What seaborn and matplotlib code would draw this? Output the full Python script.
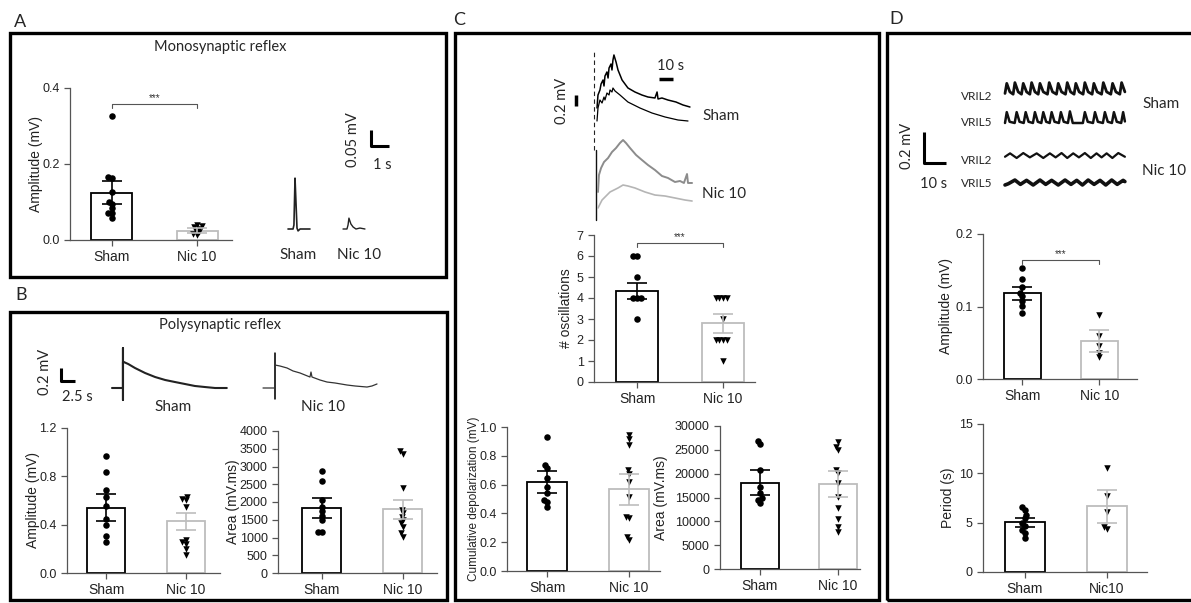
import numpy as np
import pandas as pd
import matplotlib
matplotlib.use("Agg")
import matplotlib.pyplot as plt
import seaborn as sns
from matplotlib.patches import Rectangle

# ---- bar chart data ----
groups = ["Sham", "Nic 10"]
groups_d = ["Sham", "Nic10"]

a_mean = [0.125, 0.025]
a_sem = [0.029, 0.007]
a_sham = [0.327, 0.167, 0.163, 0.127, 0.101, 0.095, 0.084, 0.072, 0.07, 0.057]
a_nic = [0.04, 0.037, 0.033, 0.03, 0.025, 0.02, 0.015, 0.012]

b_amp_mean = [0.54, 0.43]
b_amp_sem = [0.113, 0.07]
b_amp_sham = [0.968, 0.836, 0.69, 0.629, 0.557, 0.45, 0.394, 0.31, 0.257]
b_amp_nic = [0.629, 0.615, 0.601, 0.546, 0.276, 0.257, 0.243, 0.2, 0.146]

b_area_mean = [1832, 1794]
b_area_sem = [270, 260]
b_area_sham = [2878, 2579, 2056, 1869, 1748, 1607, 1495, 1168, 1150]
b_area_nic = [3439, 3364, 2383, 1776, 1682, 1589, 1495, 1402, 1308, 1121, 1028]

c_osc_mean = [4.34, 2.79]
c_osc_sem = [0.38, 0.44]
c_osc_sham = [6, 6, 5, 4, 4, 4, 3]
c_osc_nic = [4, 4, 4, 4, 3, 2, 2, 2, 2, 1]

c_cum_mean = [0.619, 0.567]
c_cum_sem = [0.075, 0.108]
c_cum_sham = [0.93, 0.733, 0.714, 0.644, 0.586, 0.544, 0.493, 0.481, 0.447]
c_cum_nic = [0.944, 0.919, 0.872, 0.698, 0.674, 0.621, 0.516, 0.377, 0.365, 0.237, 0.214]

c_area_mean = [18112, 17902]
c_area_sem = [2620, 2760]
c_area_sham = [26923, 26224, 20769, 17273, 15874, 14825, 14476, 13776]
c_area_nic = [26573, 25524, 24965, 20769, 20210, 17972, 15175, 12727, 10420, 8881, 7832]

d_amp_mean = [0.118, 0.0525]
d_amp_sem = [0.0088, 0.0155]
d_amp_sham = [0.153, 0.138, 0.127, 0.118, 0.114, 0.107, 0.101, 0.091]
d_amp_nic = [0.088, 0.059, 0.046, 0.036, 0.03]

d_per_mean = [5.03, 6.66]
d_per_sem = [0.46, 1.68]
d_per_sham = [6.59, 6.32, 5.81, 5.47, 4.97, 4.7, 4.22, 3.95, 3.45]
d_per_nic = [10.54, 7.67, 6.05, 4.56, 4.36]

# ---- example traces (time in s, voltage in mV) ----
a_sham_t = [0, 0.28, 0.33, 0.39, 0.44, 0.5, 0.56, 0.67, 1.22]
a_sham_v = [0, 0, 0.0125, 0.159, 0.0875, 0.003, -0.006, 0, 0]
a_nic_t = [0, 0.22, 0.28, 0.33, 0.44, 0.56, 0.72, 0.94, 1.22]
a_nic_v = [0, 0, 0.0125, 0.034, 0.0156, 0.0063, 0, 0.003, 0]

b_sham_t = [0, 1.8, 1.96, 1.96, 1.96, 1.96, 2.1, 2.9, 4.1, 5.9, 7.7, 9.5, 11.25, 13.0, 14.8, 16.6, 18.4, 20.5]
b_sham_v = [0, 0, 0, 0.615, -0.185, 0.4, 0.4, 0.369, 0.308, 0.231, 0.169, 0.123, 0.092, 0.062, 0.031, 0.015, 0, 0]
b_nic_t = [0, 1.96, 2.14, 2.14, 2.14, 2.14, 3.04, 4.29, 5.36, 6.61, 7.5, 8.39, 8.57, 8.75,
           10.18, 11.43, 12.86, 15.0, 16.43, 18.57, 19.46, 20.36]
b_nic_v = [0, 0, 0, 0.538, -0.169, 0.354, 0.338, 0.308, 0.262, 0.231, 0.2, 0.169, 0.246, 0.169,
           0.123, 0.092, 0.077, 0.046, 0.031, 0.015, 0.031, 0.062]

c_sham1_t = [0, 0.7, 2.1, 2.9, 4.3, 5.0, 5.7, 7.1, 7.9, 8.6, 10.0, 10.7, 11.4, 12.1, 13.6, 15.0, 17.9,
             22.1, 27.1, 32.1, 36.4, 41.4, 42.9, 43.6, 46.4, 50.7, 56.4, 61.4, 66.4]
c_sham1_v = [0, 0.236, 0.327, 0.436, 0.509, 0.4, 0.582, 0.655, 0.545, 0.727, 0.8, 0.691, 0.873, 0.964,
             0.836, 0.691, 0.509, 0.364, 0.291, 0.236, 0.2, 0.182, 0.291, 0.164, 0.182, 0.145, 0.109,
             0.055, 0.018]
c_sham2_t = [0, 0.7, 2.1, 3.6, 5.0, 5.7, 7.1, 8.6, 9.3, 10.7, 11.4, 12.9, 16.4, 22.1, 30.7, 39.3,
             48.6, 57.9, 65.0]
c_sham2_v = [0, 0.236, 0.382, 0.327, 0.436, 0.382, 0.509, 0.473, 0.564, 0.527, 0.6, 0.545, 0.473,
             0.345, 0.236, 0.145, 0.073, 0.018, 0]
c_nic1_t = [0.7, 1.4, 2.9, 5.0, 7.9, 10.7, 13.6, 16.4, 18.6, 20.7, 23.6, 27.9, 32.1, 36.4, 41.4,
            46.4, 50.7, 55.7, 59.3, 62.1, 64.3, 65.0, 67.9]
c_nic1_v = [0, 0.309, 0.436, 0.545, 0.618, 0.727, 0.8, 0.891, 0.945, 0.891, 0.8, 0.673, 0.582,
            0.491, 0.4, 0.291, 0.255, 0.182, 0.2, 0.164, 0.327, 0.164, 0.164]
c_nic2_t = [0.7, 3.6, 9.3, 15.0, 18.6, 22.1, 27.1, 34.3, 41.4, 48.6, 55.7, 62.9, 67.9]
c_nic2_v = [0, 0.145, 0.291, 0.364, 0.418, 0.4, 0.364, 0.291, 0.236, 0.218, 0.182, 0.145, 0.127]

d_sham2_t = [0, 0.8, 2.2, 3.7, 4.5, 6.0, 7.5, 8.3, 9.8, 11.3, 12.1, 13.6, 15.1, 15.9, 17.4, 19.3,
             20.1, 21.6, 23.4, 24.2, 25.7, 27.5, 28.3, 29.8, 31.4, 32.2, 33.7, 35.5, 36.3, 37.8,
             39.6, 40.4, 41.9, 43.9, 44.7, 46.2, 48.1, 48.9, 50.4, 52.2, 53.0, 54.5]
d_sham2_v = [0.01, 0.075, 0.02, 0.005, 0.08, 0.02, 0.005, 0.075, 0.02, 0.005, 0.08, 0.02, 0.005,
             0.075, 0.02, 0.005, 0.08, 0.02, 0.005, 0.075, 0.02, 0.005, 0.08, 0.02, 0.005,
             0.075, 0.02, 0.005, 0.08, 0.02, 0.005, 0.075, 0.02, 0.005, 0.08, 0.02, 0.005,
             0.075, 0.02, 0.005, 0.08, 0.02]
d_sham5_t = [0, 0.8, 2.1, 4.4, 5.3, 6.6, 8.5, 9.4, 10.7, 12.7, 13.6, 14.9, 16.5, 17.4, 18.7, 20.3,
             21.2, 22.5, 24.5, 25.4, 26.7, 28.6, 29.5, 30.8, 35.4, 36.3, 37.6, 40.0, 40.9, 42.2,
             44.5, 45.4, 46.7, 48.6, 49.5, 50.8, 52.8, 53.7, 54.5]
d_sham5_v = [0.0, 0.07, 0.008, 0.0, 0.07, 0.008, 0.0, 0.07, 0.008, 0.0, 0.07, 0.008, 0.0,
             0.07, 0.008, 0.0, 0.07, 0.008, 0.0, 0.07, 0.008, 0.0, 0.075, 0.0, 0.0,
             0.07, 0.008, 0.0, 0.07, 0.008, 0.0, 0.07, 0.008, 0.0, 0.07, 0.008, 0.0,
             0.07, 0.01]
d_nic2_t = [0, 2.3, 5.3, 8.3, 11.3, 14.4, 17.4, 20.4, 23.0, 25.7, 28.3, 31.0, 33.6, 36.3, 39.0,
            41.6, 43.9, 46.2, 48.8, 51.5, 54.5]
d_nic2_v = [0.008, 0.03, 0.0, 0.032, 0.004, 0.03, 0.0, 0.03, 0.004, 0.032, 0.0, 0.03, 0.004,
            0.032, 0.0, 0.03, 0.004, 0.03, 0.0, 0.032, 0.008]
d_nic5_t = [0, 1.5, 4.5, 7.0, 9.8, 12.8, 15.9, 18.5, 21.2, 24.2, 27.3, 30.0, 32.6, 35.2, 37.8,
            40.5, 43.2, 45.8, 48.5, 51.0, 53.7, 54.5]
d_nic5_v = [0.0, 0.008, 0.032, 0.004, 0.03, 0.0, 0.032, 0.004, 0.03, 0.0, 0.032, 0.004, 0.03,
            0.0, 0.032, 0.004, 0.03, 0.0, 0.032, 0.004, 0.03, 0.022]

# ---- styling ----
sns.set_theme(style="ticks")
plt.rcParams["font.family"] = ["Liberation Sans", "DejaVu Sans"]
CAL = ["Lato", "DejaVu Sans"]
AX_GRAY = "#555555"
NIC_GRAY = "#bdbdbd"

W, H = 1191, 603
fig = plt.figure(figsize=(W / 100, H / 100), dpi=100)
swarms = []  # point collections, enlarged after the swarm layout is fixed


def px_axes(x0, y0, x1, y1):
    return fig.add_axes([x0 / W, 1 - y1 / H, (x1 - x0) / W, (y1 - y0) / H])


def ftext(x, y, s, **kw):
    kw.setdefault("family", CAL)
    fig.text(x / W, 1 - y / H, s, **kw)


def box(x0, y0, x1, y1):
    fig.add_artist(Rectangle((x0 / W, 1 - y1 / H), (x1 - x0) / W, (y1 - y0) / H,
                             transform=fig.transFigure, fill=False, lw=2.4, ec="black"))


def bar_panel(rect, means, sems, sham_pts, nic_pts, ymax, yticks, ylabel, label_px,
              xlim, labels=groups, fmt=None, sig=None, ylabel_size=10):
    ax = px_axes(*rect)
    cols = ["black", NIC_GRAY]
    sns.barplot(x=labels, y=means, order=labels, color="white", width=0.48,
                linewidth=1.3, errorbar=None, ax=ax)
    for patch, ec in zip(ax.patches, cols):
        patch.set_edgecolor(ec)
        patch.set_facecolor("white")
    for i, (m, s) in enumerate(zip(means, sems)):
        ax.errorbar(i, m, yerr=s, color=cols[i], capsize=7, lw=1.2, capthick=1.2, zorder=5)
    for pts, grp, mk in [(sham_pts, labels[0], "o"), (nic_pts, labels[1], "v")]:
        n0 = len(ax.collections)
        sns.swarmplot(x=[grp] * len(pts), y=pts, order=labels, color="black",
                      marker=mk, size=2.6, linewidth=0, ax=ax, zorder=4)
        swarms.extend(ax.collections[n0:])
    ax.set_xlim(*xlim)
    ax.set_ylim(0, ymax)
    ax.set_yticks(yticks)
    if fmt:
        ax.set_yticklabels([fmt.format(t) for t in yticks])
    ax.set_xlabel("")
    ax.set_ylabel(ylabel, fontsize=ylabel_size, color="#222222")
    x0, y0, x1, y1 = rect
    ax.yaxis.set_label_coords((label_px - x0) / (x1 - x0), 0.5)
    ax.set_facecolor("none")
    sns.despine(ax=ax)
    for sp in ["left", "bottom"]:
        ax.spines[sp].set_color(AX_GRAY)
        ax.spines[sp].set_linewidth(0.9)
    ax.tick_params(axis="y", length=4, width=0.9, color=AX_GRAY, labelsize=9, labelcolor="#222222")
    ax.tick_params(axis="x", length=4, width=0.9, color=AX_GRAY, labelsize=10, labelcolor="#222222")
    if sig is not None:
        h = ymax * 0.025
        ax.plot([0, 0, 1, 1], [sig - h, sig, sig, sig - h], color=AX_GRAY, lw=0.8)
        ax.text(0.5, sig + h * 0.3, "***", ha="center", va="bottom", fontsize=7, color="#333333")
    return ax


def trace_axes(rect, xlim, ylim):
    ax = px_axes(*rect)
    ax.set_xlim(*xlim)
    ax.set_ylim(*ylim)
    ax.axis("off")
    return ax


# ---- panel boxes and letters ----
box(10, 33, 446, 277)
box(10, 312, 447, 600)
box(455, 33, 879, 600)
box(887, 33, 1200, 600)
ftext(20, 22, "A", fontsize=13, ha="center", va="center")
ftext(21, 295, "B", fontsize=13, ha="center", va="center")
ftext(459, 20, "C", fontsize=13, ha="center", va="center")
ftext(896, 19, "D", fontsize=13, ha="center", va="center")

# ---- A: monosynaptic reflex ----
ftext(220, 47, "Monosynaptic reflex", fontsize=10.5, ha="center", va="center")
bar_panel((70, 88, 232, 240), a_mean, a_sem, a_sham, a_nic, 0.4, [0.0, 0.2, 0.4],
          "Amplitude (mV)", 43, (-0.49, 1.41), fmt="{:.1f}", sig=0.358)

ax = trace_axes((280, 120, 400, 240), (0, 120 / 18), (-11 / 320, 109 / 320))
ax.plot(np.array(a_sham_t) + 8 / 18, a_sham_v, color="#222222", lw=1.2)
ax.plot(np.array(a_nic_t) + 63 / 18, a_nic_v, color="#222222", lw=1.0)
ax.plot([91 / 18, 91 / 18, 91 / 18 + 1], [99 / 320, 83 / 320, 83 / 320], color="black", lw=2.2,
        solid_capstyle="butt")
ftext(353, 140, "0.05 mV", fontsize=10.5, rotation=90, ha="center", va="center")
ftext(382, 165, "1 s", fontsize=10.5, ha="center", va="center")
ftext(298, 255, "Sham", fontsize=11, ha="center", va="center")
ftext(359, 255, "Nic 10", fontsize=11, ha="center", va="center")

# ---- B: polysynaptic reflex ----
ftext(220, 325, "Polysynaptic reflex", fontsize=10.5, ha="center", va="center")
ax = trace_axes((30, 340, 400, 410), (0, 370 / 5.6), (-22 / 65, 48 / 65))
ax.plot(np.array(b_sham_t) + 82 / 5.6, b_sham_v, color="#222222", lw=1.5)
ax.plot(np.array(b_nic_t) + 233 / 5.6, b_nic_v, color="#333333", lw=0.9)
ax.plot([31 / 5.6, 31 / 5.6, 31 / 5.6 + 2.5], [0.308, 0.108, 0.108], color="black", lw=2.2,
        solid_capstyle="butt")
ftext(45, 372, "0.2 mV", fontsize=10.5, rotation=90, ha="center", va="center")
ftext(77, 397, "2.5 s", fontsize=10.5, ha="center", va="center")
ftext(173, 407, "Sham", fontsize=11, ha="center", va="center")
ftext(323, 407, "Nic 10", fontsize=11, ha="center", va="center")

bar_panel((67, 428, 220, 573), b_amp_mean, b_amp_sem, b_amp_sham, b_amp_nic, 1.2,
          [0.0, 0.4, 0.8, 1.2], "Amplitude (mV)", 40, (-0.49, 1.43), fmt="{:.1f}")
bar_panel((278, 431, 437, 573), b_area_mean, b_area_sem, b_area_sham, b_area_nic, 4000,
          list(range(0, 4001, 500)), "Area (mV.ms)", 240, (-0.54, 1.42))

# ---- C: oscillations ----
ax = trace_axes((560, 45, 700, 225), (-37 / 1.4, 103 / 1.4), (0, 180 / 55))
ax.plot([-3 / 1.4, -3 / 1.4], [75 / 55, 176 / 55], color="#222222", lw=0.8, ls=(0, (4, 3)))
ax.plot([-1 / 1.4, -1 / 1.4], [5 / 55, 75 / 55], color="#111111", lw=1.0)
ax.plot(c_sham1_t, np.array(c_sham1_v) + 117 / 55, color="black", lw=1.1)
ax.plot(c_sham2_t, np.array(c_sham2_v) + 104 / 55, color="black", lw=0.9)
ax.plot(c_nic1_t, np.array(c_nic1_v) + 33 / 55, color="#8c8c8c", lw=1.4)
ax.plot(c_nic2_t, np.array(c_nic2_v) + 17 / 55, color="#b5b5b5", lw=1.2)
ax.plot([-21 / 1.4, -21 / 1.4], [119 / 55, 130 / 55], color="black", lw=2.5, solid_capstyle="butt")
ax.plot([62 / 1.4, 62 / 1.4 + 10], [146 / 55, 146 / 55], color="black", lw=2.5, solid_capstyle="butt")
ftext(562, 101, "0.2 mV", fontsize=10.5, rotation=90, ha="center", va="center")
ftext(671, 66, "10 s", fontsize=10.5, ha="center", va="center")
ftext(702, 116, "Sham", fontsize=11, ha="left", va="center")
ftext(702, 194, "Nic 10", fontsize=11, ha="left", va="center")

bar_panel((594, 235, 755, 382), c_osc_mean, c_osc_sem, c_osc_sham, c_osc_nic, 7,
          list(range(0, 8)), "# oscillations", 573, (-0.5, 1.37), sig=6.6)
bar_panel((507, 427, 660, 571), c_cum_mean, c_cum_sem, c_cum_sham, c_cum_nic, 1.0,
          [0.0, 0.2, 0.4, 0.6, 0.8, 1.0], "Cumulative depolarization (mV)", 480, (-0.49, 1.38),
          fmt="{:.1f}", ylabel_size=8.5)
bar_panel((720, 426, 860, 569), c_area_mean, c_area_sem, c_area_sham, c_area_nic, 30000,
          list(range(0, 30001, 5000)), "Area (mV.ms)", 668, (-0.51, 1.28))

# ---- D: locomotor-like activity ----
ax = trace_axes((900, 75, 1130, 195), (-105 / 2.2, 125 / 2.2), (0, 120 / 155))
ax.plot(d_sham2_t, np.array(d_sham2_v) + 100 / 155, color="#111111", lw=2.0)
ax.plot(d_sham5_t, np.array(d_sham5_v) + 72 / 155, color="#111111", lw=1.8)
ax.plot(d_nic2_t, np.array(d_nic2_v) + 37 / 155, color="#111111", lw=1.6)
ax.plot(d_nic5_t, np.array(d_nic5_v) + 10 / 155, color="#111111", lw=2.6)
ax.plot([-81 / 2.2, -81 / 2.2, -81 / 2.2 + 10], [63 / 155, 32 / 155, 32 / 155], color="black",
        lw=2.2, solid_capstyle="butt")
ftext(907, 146, "0.2 mV", fontsize=10.5, rotation=90, ha="center", va="center")
ftext(934, 184, "10 s", fontsize=10.5, ha="center", va="center")
for y, s in [(97, "VRIL2"), (123, "VRIL5"), (160, "VRIL2"), (184, "VRIL5")]:
    ftext(992, y, s, fontsize=8.5, ha="right", va="center")
ftext(1142, 104, "Sham", fontsize=11, ha="left", va="center")
ftext(1142, 171, "Nic 10", fontsize=11, ha="left", va="center")

bar_panel((983, 234, 1137, 379), d_amp_mean, d_amp_sem, d_amp_sham, d_amp_nic, 0.2,
          [0.0, 0.1, 0.2], "Amplitude (mV)", 953, (-0.51, 1.49), fmt="{:.1f}", sig=0.164)
bar_panel((983, 424, 1147, 572), d_per_mean, d_per_sem, d_per_sham, d_per_nic, 15,
          [0, 5, 10, 15], "Period (s)", 955, (-0.51, 1.49), labels=groups_d)

# lay out the swarms with small markers, then draw the markers at full size so they overlap
fig.canvas.draw()
for pts in swarms:
    if "draw" in pts.__dict__:
        del pts.draw
    pts.set_sizes([22])

fig.savefig("out.png", dpi=100)
